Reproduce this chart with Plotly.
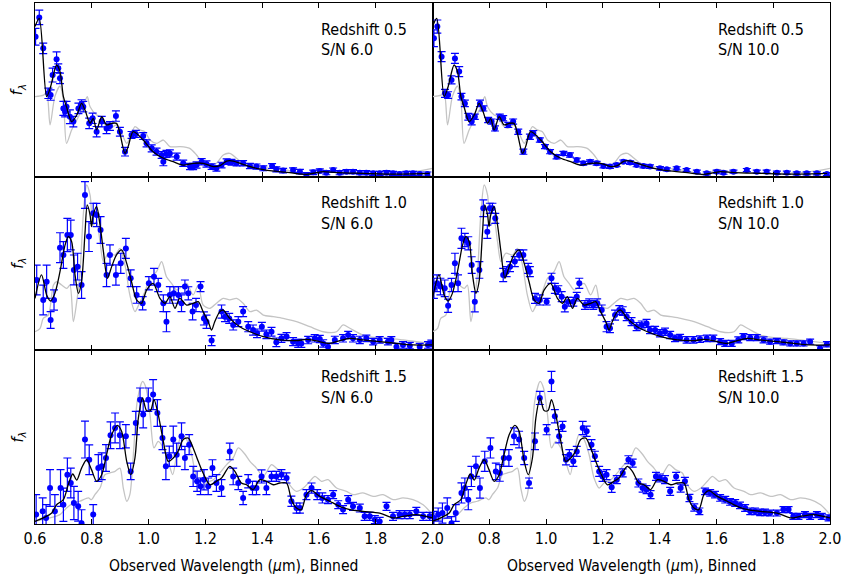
import plotly.graph_objects as go
from plotly.subplots import make_subplots

# ---------------- data (wavelength in micron, flux in arbitrary units) ----------------
tick_vals = [0.6, 0.8, 1.0, 1.2, 1.4, 1.6, 1.8, 2.0]
tick_text = ["0.6", "0.8", "1.0", "1.2", "1.4", "1.6", "1.8", "2.0"]

# templates (gray) and models (black) per redshift
gray05_wl = [0.600,0.630,0.641,0.653,0.670,0.688,0.700,0.711,0.729,0.747,0.770,0.784,0.794,0.817,0.835,0.846,0.864,0.887,0.905,0.923,0.934,0.952,0.969,0.987,1.005,1.028,1.052,1.075,1.110,1.145,1.169,1.192,1.216,1.239,1.263,1.286,1.310,1.333,1.380,1.427,1.497,1.556,1.603,1.638,1.709,1.814,1.931,2.000]
gray05_f = [46.1,47.0,48.4,29.8,46.1,52.2,44.1,19.2,26.9,32.6,40.3,46.1,40.3,35.5,34.5,29.8,27.8,29.8,25.0,19.2,22.1,28.8,26.9,25.9,21.1,19.2,21.1,17.3,17.3,16.3,12.5,7.7,6.7,7.7,12.5,13.4,10.6,7.7,5.8,4.8,3.5,1.0,4.2,2.9,2.3,1.9,2.9,4.8]
model05_wl = [0.600,0.615,0.641,0.655,0.676,0.688,0.700,0.711,0.729,0.747,0.764,0.776,0.794,0.805,0.817,0.835,0.852,0.870,0.887,0.899,0.917,0.928,0.946,0.981,1.016,1.052,1.087,1.122,1.157,1.192,1.228,1.251,1.275,1.298,1.333,1.380,1.427,1.497,1.556,1.591,1.615,1.662,1.755,1.873,1.990]
model05_f = [86.4,91.2,46.1,51.8,64.3,60.5,46.1,40.3,31.7,35.5,42.2,38.4,30.7,33.6,26.9,34.5,29.8,30.7,30.7,25.0,13.4,17.3,25.9,21.1,14.4,10.6,8.6,6.7,7.7,7.7,5.8,6.3,9.0,9.0,7.1,4.8,3.5,2.3,1.3,2.3,2.9,2.3,1.9,1.5,1.9]

gray10_wl = [0.600,0.618,0.629,0.647,0.665,0.676,0.694,0.712,0.723,0.735,0.747,0.758,0.770,0.782,0.794,0.805,0.817,0.829,0.841,0.858,0.882,0.899,0.917,0.934,0.952,0.970,0.987,1.005,1.028,1.046,1.063,1.081,1.099,1.116,1.134,1.157,1.175,1.192,1.216,1.239,1.263,1.286,1.310,1.333,1.357,1.380,1.404,1.439,1.474,1.521,1.568,1.615,1.662,1.685,1.709,1.755,1.802,1.849,1.896,1.943,2.000]
gray10_f = [10.7,12.7,18.4,20.3,37.6,39.5,37.6,35.7,37.6,16.5,28.0,43.4,77.9,95.2,89.4,72.2,74.1,62.6,51.1,55.9,54.9,58.7,49.1,31.9,22.3,28.0,33.8,41.5,45.3,51.1,42.4,38.6,34.7,36.7,38.6,31.9,37.6,26.1,24.2,27.1,29.9,29.0,29.9,27.1,22.3,23.2,20.3,19.4,18.4,16.5,13.6,10.7,10.7,14.6,12.7,8.8,7.3,6.9,6.0,5.0,4.0]
model10_wl = [0.600,0.623,0.641,0.655,0.670,0.688,0.706,0.717,0.729,0.741,0.753,0.764,0.776,0.784,0.794,0.799,0.805,0.817,0.829,0.841,0.855,0.870,0.887,0.905,0.923,0.940,0.958,0.975,0.993,1.016,1.040,1.058,1.075,1.093,1.110,1.134,1.157,1.175,1.192,1.210,1.222,1.233,1.251,1.263,1.286,1.321,1.357,1.404,1.462,1.521,1.556,1.591,1.638,1.673,1.709,1.755,1.814,1.873,1.931,2.000]
model10_f = [29.9,43.4,31.9,28.4,32.8,45.3,60.7,65.5,62.6,43.4,32.8,39.5,67.4,83.7,77.9,71.2,77.9,82.7,72.2,56.8,41.5,48.2,54.9,57.8,50.1,39.5,29.0,27.1,34.7,38.6,29.9,27.1,30.9,24.2,29.9,26.1,27.1,28.0,22.3,16.5,11.7,16.5,22.3,23.2,18.4,13.6,10.7,7.9,6.0,5.6,6.3,5.4,4.0,5.6,6.9,6.0,5.0,4.0,3.1,3.1]

gray15_wl = [0.600,0.653,0.688,0.711,0.735,0.758,0.788,0.799,0.811,0.829,0.846,0.864,0.882,0.899,0.911,0.923,0.934,0.948,0.960,0.979,0.991,1.005,1.019,1.034,1.052,1.069,1.085,1.099,1.116,1.134,1.151,1.169,1.187,1.204,1.228,1.251,1.275,1.298,1.316,1.339,1.357,1.380,1.404,1.433,1.456,1.480,1.497,1.521,1.545,1.568,1.586,1.609,1.632,1.662,1.697,1.720,1.755,1.791,1.826,1.861,1.896,1.931,1.967,2.000]
gray15_f = [1.5,3.5,5.4,9.2,12.1,13.1,15.0,14.0,16.9,20.7,28.4,29.4,30.3,32.2,20.7,13.1,16.9,43.8,70.6,82.1,78.3,63.0,43.8,47.6,43.8,36.1,28.4,40.3,51.4,48.6,40.3,26.5,20.7,23.6,25.5,29.4,34.2,38.0,43.8,40.3,36.1,32.2,27.4,34.2,31.3,29.4,22.6,18.8,20.7,24.6,27.4,24.6,25.5,20.7,18.8,16.9,17.9,15.9,16.9,14.0,15.0,14.0,11.1,5.4]
model15_wl = [0.600,0.629,0.659,0.676,0.700,0.717,0.733,0.747,0.764,0.782,0.799,0.817,0.835,0.852,0.870,0.890,0.905,0.923,0.937,0.952,0.964,0.979,0.993,1.007,1.019,1.034,1.052,1.069,1.087,1.104,1.122,1.140,1.157,1.175,1.192,1.216,1.239,1.257,1.286,1.304,1.327,1.345,1.368,1.392,1.415,1.439,1.462,1.486,1.503,1.521,1.538,1.556,1.574,1.603,1.638,1.673,1.709,1.755,1.814,1.861,1.896,1.943,2.000]
model15_f = [1.5,3.5,6.3,11.1,14.0,22.6,28.8,25.3,32.2,37.0,31.3,24.6,28.4,39.9,51.4,56.8,53.4,36.1,28.4,38.0,61.0,72.6,65.3,65.3,71.6,63.0,47.6,36.1,38.0,41.8,48.6,49.5,43.8,36.1,29.4,22.6,24.6,26.5,33.2,30.3,23.6,22.6,19.8,25.5,24.6,22.6,23.6,23.6,14.0,9.2,8.3,16.9,19.2,15.9,13.1,10.2,8.3,7.3,6.3,3.5,4.4,5.4,3.5]

# binned observations (blue points with errors)
obs_z05_sn6_wl = [0.602,0.615,0.629,0.647,0.655,0.662,0.676,0.682,0.688,0.700,0.706,0.711,0.723,0.735,0.753,0.764,0.770,0.791,0.803,0.817,0.835,0.852,0.864,0.885,0.899,0.917,0.940,0.955,0.981,0.993,1.011,1.028,1.046,1.052,1.063,1.075,1.099,1.122,1.146,1.157,1.169,1.187,1.204,1.222,1.239,1.257,1.275,1.292,1.310,1.333,1.357,1.380,1.404,1.435,1.450,1.474,1.509,1.533,1.556,1.580,1.603,1.626,1.650,1.673,1.697,1.720,1.744,1.767,1.791,1.814,1.838,1.861,1.884,1.908,1.931,1.955,1.982]
obs_z05_sn6_f = [80.6,91.7,73.9,48.0,47.0,58.5,67.6,62.4,56.6,39.3,37.4,40.3,34.5,31.7,39.3,41.8,40.3,30.7,33.6,25.9,31.7,27.8,29.2,34.9,25.9,14.4,24.0,24.6,23.4,19.2,16.3,14.4,12.5,8.6,13.1,13.4,11.5,7.7,5.8,5.8,6.7,8.6,7.3,5.8,4.8,6.7,8.6,8.3,7.7,7.7,6.1,5.8,4.8,6.1,4.2,3.5,3.8,2.9,1.0,2.5,3.3,2.3,3.8,2.3,2.9,2.9,2.3,2.3,1.9,1.9,2.3,1.9,1.5,1.9,1.9,1.5,1.5]
obs_z05_sn6_e = [4.8,4.2,3.0,3.0,3.0,4.0,4.2,2.5,3.0,4.0,3.0,3.0,4.0,3.0,3.0,2.5,3.0,3.0,3.0,3.0,3.0,3.0,2.5,3.0,2.5,2.5,2.0,2.0,2.0,2.0,2.0,2.0,2.0,2.3,2.0,2.0,2.0,1.8,1.8,1.8,1.8,1.8,1.8,1.6,1.6,1.6,1.6,1.6,1.5,1.5,1.5,1.5,1.4,1.4,1.4,1.3,1.3,1.3,1.3,1.3,1.2,1.2,1.2,1.2,1.2,1.2,1.2,1.2,1.2,1.2,1.2,1.2,1.2,1.2,1.2,1.2,1.2]

obs_z05_sn10_wl = [0.605,0.617,0.632,0.644,0.655,0.667,0.679,0.694,0.702,0.714,0.726,0.738,0.749,0.767,0.779,0.796,0.808,0.820,0.837,0.849,0.867,0.884,0.902,0.920,0.943,0.955,0.978,0.996,1.014,1.037,1.061,1.084,1.108,1.131,1.155,1.178,1.202,1.225,1.249,1.272,1.296,1.319,1.343,1.366,1.401,1.425,1.460,1.495,1.531,1.566,1.601,1.625,1.660,1.707,1.742,1.777,1.813,1.848,1.883,1.918,1.954,1.989]
obs_z05_sn10_f = [79.7,86.4,69.1,48.0,47.0,55.7,68.1,60.5,46.1,42.2,34.5,31.7,34.5,42.2,39.3,32.6,31.7,27.8,34.5,33.6,29.8,31.7,25.9,14.4,23.0,25.0,21.1,17.3,14.4,11.5,13.4,12.5,9.6,7.7,8.6,7.7,6.1,5.8,6.7,8.6,8.1,6.7,6.1,5.8,4.8,4.2,4.8,3.8,2.9,1.9,2.9,2.3,2.9,3.8,2.9,2.9,2.3,2.3,1.9,1.9,1.9,1.5]
obs_z05_sn10_e = [4.8,3.8,2.9,2.3,1.9,2.3,2.9,2.9,1.9,1.9,1.9,1.9,1.5,1.9,1.5,1.5,1.5,1.5,1.5,1.5,1.5,1.5,1.5,1.5,1.5,1.5,1.2,1.2,1.2,1.2,1.2,1.2,1.1,1.1,1.1,1.1,1.0,1.0,1.0,1.0,1.0,1.0,1.0,1.0,1.0,0.9,0.9,0.9,0.9,0.9,0.9,0.9,0.9,0.9,0.9,0.9,0.9,0.9,0.9,0.9,0.9,0.9]

obs_z10_sn6_wl = [0.606,0.629,0.641,0.655,0.667,0.688,0.700,0.714,0.726,0.737,0.750,0.764,0.776,0.790,0.805,0.817,0.831,0.852,0.864,0.885,0.902,0.920,0.937,0.958,0.979,1.001,1.019,1.034,1.052,1.063,1.075,1.089,1.105,1.116,1.128,1.140,1.155,1.167,1.183,1.195,1.204,1.222,1.257,1.269,1.284,1.298,1.316,1.333,1.351,1.368,1.382,1.399,1.415,1.433,1.450,1.468,1.486,1.509,1.527,1.538,1.562,1.585,1.603,1.615,1.632,1.656,1.685,1.703,1.720,1.744,1.767,1.791,1.814,1.843,1.855,1.873,1.896,1.920,1.955,1.984,1.996]
obs_z10_sn6_f = [40.5,29.0,39.5,17.5,29.0,59.1,54.9,66.4,66.4,46.3,48.2,37.6,89.4,65.5,78.9,77.9,69.3,43.4,54.9,43.4,50.1,58.7,41.5,31.9,27.1,38.6,42.4,37.6,27.1,16.5,31.9,32.8,31.9,27.1,36.7,32.8,22.3,26.1,36.7,18.4,16.5,5.6,22.3,19.4,18.4,14.6,16.5,22.3,13.6,11.7,9.8,13.6,9.2,10.7,4.6,6.9,7.9,5.0,4.0,4.0,5.9,6.9,6.5,4.0,2.1,6.0,6.9,8.8,6.9,6.0,6.9,5.0,6.0,5.0,6.0,2.1,3.1,2.7,2.1,3.1,4.0]
obs_z10_sn6_e = [8.6,8.6,9.6,4.8,5.8,8.6,7.7,9.6,8.6,8.6,7.7,7.7,7.7,8.6,5.8,6.7,7.7,6.7,5.8,5.8,5.8,5.8,4.8,4.8,3.8,3.8,4.8,3.8,4.8,5.8,4.8,3.8,4.8,4.8,3.8,3.8,4.8,3.8,2.9,3.8,3.8,2.9,3.8,2.9,2.9,2.9,2.9,2.9,2.9,2.9,2.5,2.5,2.5,2.5,2.5,2.3,2.3,2.3,2.3,2.3,2.1,2.1,2.1,2.1,2.1,2.1,2.1,2.1,2.1,2.1,1.9,1.9,1.9,1.9,1.9,1.9,1.9,1.9,1.9,1.9,1.9]

obs_z10_sn10_wl = [0.605,0.616,0.628,0.643,0.655,0.667,0.679,0.690,0.702,0.714,0.726,0.738,0.749,0.765,0.779,0.793,0.802,0.811,0.821,0.849,0.861,0.873,0.890,0.905,0.920,0.937,0.943,0.961,0.978,1.002,1.019,1.031,1.043,1.055,1.066,1.078,1.096,1.108,1.117,1.137,1.152,1.166,1.180,1.196,1.213,1.225,1.243,1.258,1.270,1.284,1.301,1.319,1.337,1.354,1.366,1.384,1.401,1.419,1.437,1.454,1.472,1.495,1.519,1.542,1.566,1.589,1.613,1.631,1.654,1.677,1.695,1.719,1.742,1.766,1.789,1.813,1.836,1.860,1.883,1.907,1.930,1.965,1.989]
obs_z10_sn10_f = [35.7,38.6,36.7,35.7,25.7,37.6,50.1,38.6,64.5,63.5,61.6,49.1,28.0,46.3,81.8,68.3,81.8,81.8,76.0,43.4,45.3,48.2,51.1,54.9,54.9,47.2,45.3,29.9,29.0,28.0,41.5,35.7,34.7,30.9,25.1,28.0,28.0,30.9,38.6,26.1,27.1,26.1,27.1,23.2,13.6,12.7,20.3,23.2,22.6,19.4,16.5,13.6,14.6,15.5,11.7,11.7,9.8,10.7,8.8,6.9,7.3,6.0,6.0,6.5,6.9,6.9,5.0,4.0,4.0,6.0,7.9,7.3,7.3,6.0,5.0,5.4,4.6,4.0,4.0,4.0,5.0,1.2,3.5]
obs_z10_sn10_e = [5.8,4.8,4.8,4.8,3.8,3.8,5.8,4.8,5.8,3.8,3.8,4.8,5.8,4.8,4.8,3.8,2.9,2.9,2.9,3.8,2.9,2.9,2.9,2.9,2.9,2.9,2.9,2.9,2.9,1.9,2.9,2.9,2.5,2.9,2.9,2.5,2.5,2.5,2.9,2.5,2.5,2.5,2.5,2.9,2.9,2.5,2.9,2.5,2.5,2.3,2.3,2.3,2.3,2.3,2.1,2.1,2.1,2.1,2.1,1.9,1.9,1.9,1.9,1.9,1.9,1.9,1.7,1.7,1.7,1.7,1.7,1.7,1.7,1.7,1.5,1.5,1.5,1.5,1.5,1.5,1.5,1.5,1.5]

obs_z15_sn6_wl = [0.604,0.627,0.639,0.653,0.670,0.690,0.700,0.714,0.726,0.737,0.752,0.764,0.776,0.791,0.805,0.823,0.835,0.850,0.866,0.882,0.899,0.920,0.937,0.955,0.970,0.981,0.999,1.016,1.031,1.049,1.061,1.073,1.087,1.099,1.116,1.128,1.143,1.157,1.171,1.183,1.195,1.210,1.225,1.239,1.257,1.286,1.298,1.316,1.333,1.351,1.366,1.380,1.398,1.415,1.433,1.450,1.468,1.486,1.503,1.521,1.533,1.556,1.574,1.594,1.612,1.632,1.650,1.668,1.685,1.703,1.720,1.744,1.761,1.779,1.797,1.814,1.838,1.861,1.884,1.902,1.920,1.943,1.967,1.990]
obs_z15_sn6_f = [5.4,7.3,3.5,20.7,7.3,20.7,11.1,28.4,23.6,12.1,10.2,0.5,48.6,37.0,5.4,32.2,33.2,38.0,51.1,55.3,51.1,50.5,30.3,58.2,71.6,63.0,71.6,74.5,63.9,49.5,33.2,39.0,48.6,39.9,50.5,38.0,45.7,27.4,24.6,21.7,25.5,21.7,32.2,23.6,20.7,41.8,27.4,23.6,15.0,24.6,20.7,20.7,27.4,20.7,27.4,27.4,28.4,26.5,13.1,9.2,9.2,16.9,20.7,16.9,15.0,14.0,16.9,11.1,8.3,14.0,10.2,9.2,4.4,4.4,2.5,1.5,10.2,4.4,5.4,5.4,5.4,7.3,4.4,4.4]
obs_z15_sn6_e = [11.5,7.7,7.7,10.6,9.6,10.6,9.6,9.6,8.6,9.6,8.6,7.7,10.6,8.6,5.8,7.7,7.7,7.7,7.7,8.6,7.7,6.7,4.8,6.7,6.7,7.7,6.7,8.6,7.7,6.7,7.7,5.8,7.7,6.7,7.7,6.7,5.8,5.8,5.8,4.8,5.8,4.8,4.8,4.8,4.8,4.8,4.8,3.8,3.8,3.8,3.8,3.8,3.8,3.8,2.9,2.9,2.9,2.9,2.9,2.9,2.9,2.9,2.9,2.9,2.9,2.3,2.3,2.3,2.3,2.3,2.3,2.3,2.3,2.3,2.3,2.3,2.3,2.3,2.3,2.3,2.3,2.3,2.3,2.3]

obs_z15_sn10_wl = [0.605,0.620,0.635,0.652,0.667,0.682,0.702,0.714,0.726,0.737,0.753,0.767,0.784,0.804,0.823,0.837,0.851,0.869,0.887,0.905,0.923,0.940,0.961,0.978,1.002,1.019,1.031,1.046,1.058,1.070,1.082,1.096,1.108,1.129,1.143,1.160,1.172,1.187,1.199,1.213,1.231,1.249,1.270,1.290,1.305,1.325,1.340,1.354,1.368,1.387,1.401,1.419,1.437,1.458,1.474,1.489,1.505,1.522,1.540,1.560,1.578,1.595,1.613,1.631,1.648,1.666,1.683,1.701,1.719,1.736,1.754,1.771,1.789,1.813,1.836,1.854,1.871,1.889,1.912,1.930,1.954,1.971,1.995]
obs_z15_sn10_f = [3.5,5.4,6.3,9.2,0.5,6.3,17.9,20.7,14.0,27.4,33.2,20.7,36.1,43.8,30.3,29.4,38.0,38.0,50.5,48.6,38.0,23.6,47.6,72.6,54.3,82.1,62.0,50.5,56.2,37.0,39.9,36.1,41.8,55.3,53.4,45.7,39.0,30.3,27.4,28.4,21.1,25.5,29.4,37.0,35.1,23.6,20.7,19.8,16.9,27.4,26.5,25.5,18.8,27.4,20.7,24.6,15.0,9.5,7.3,18.8,17.9,16.9,15.0,14.0,12.7,12.1,10.7,9.2,7.3,7.3,6.7,6.7,6.3,6.3,8.3,8.3,4.4,4.4,5.4,4.4,5.4,4.4,3.5]
obs_z15_sn10_e = [3.8,3.8,5.8,5.8,3.8,4.8,5.8,5.8,5.8,5.8,5.8,5.8,5.8,5.8,4.8,4.8,4.8,4.8,4.8,4.8,3.8,2.9,4.8,3.8,2.9,5.8,3.8,3.8,2.9,2.9,2.9,2.9,2.9,3.8,2.9,2.9,2.9,2.9,2.9,2.9,2.9,2.3,2.3,2.3,2.3,2.3,2.3,2.3,2.3,2.3,2.3,2.3,2.3,2.3,2.3,2.3,2.1,2.1,1.9,1.9,1.9,1.9,1.9,1.9,1.9,1.9,1.9,1.9,1.9,1.9,1.9,1.9,1.7,1.7,1.7,1.7,1.7,1.7,1.7,1.7,1.7,1.7,1.7]

redshift_labels = ["Redshift 0.5", "Redshift 1.0", "Redshift 1.5"]
sn_labels = ["S/N 6.0", "S/N 10.0"]
x_title = "Observed Wavelength (<i>μ</i>m), Binned"
y_title = "<i>f<sub>λ</sub></i>"

# ---------------- figure ----------------
FONT = "DejaVu Sans Condensed, DejaVu Sans, sans-serif"
fig = make_subplots(rows=3, cols=2, horizontal_spacing=0, vertical_spacing=0)

templates = [(gray05_wl, gray05_f, model05_wl, model05_f),
             (gray10_wl, gray10_f, model10_wl, model10_f),
             (gray15_wl, gray15_f, model15_wl, model15_f)]
observations = [[(obs_z05_sn6_wl, obs_z05_sn6_f, obs_z05_sn6_e), (obs_z05_sn10_wl, obs_z05_sn10_f, obs_z05_sn10_e)],
                [(obs_z10_sn6_wl, obs_z10_sn6_f, obs_z10_sn6_e), (obs_z10_sn10_wl, obs_z10_sn10_f, obs_z10_sn10_e)],
                [(obs_z15_sn6_wl, obs_z15_sn6_f, obs_z15_sn6_e), (obs_z15_sn10_wl, obs_z15_sn10_f, obs_z15_sn10_e)]]

annotations = []
for r in range(3):
    gwl, gf, mwl, mf = templates[r]
    for c in range(2):
        owl, of, oe = observations[r][c]
        fig.add_trace(go.Scatter(x=gwl, y=gf, mode="lines",
                                 line=dict(color="#c4c4c4", width=1.3, shape="spline", smoothing=0.8),
                                 showlegend=False, hoverinfo="skip"), row=r + 1, col=c + 1)
        fig.add_trace(go.Scatter(x=owl, y=of, mode="markers",
                                 marker=dict(color="#0000ff", size=6),
                                 error_y=dict(type="data", array=oe, color="#0000ff", thickness=1.2, width=4),
                                 showlegend=False), row=r + 1, col=c + 1)
        fig.add_trace(go.Scatter(x=mwl, y=mf, mode="lines",
                                 line=dict(color="black", width=1.3, shape="spline", smoothing=0.8),
                                 showlegend=False, hoverinfo="skip"), row=r + 1, col=c + 1)
        idx = r * 2 + c + 1
        ax = "" if idx == 1 else str(idx)
        for txt, yy in ((redshift_labels[r], 0.85), (sn_labels[c], 0.73)):
            annotations.append(dict(text=txt, xref=f"x{ax} domain", yref=f"y{ax} domain",
                                    x=0.714, y=yy, xanchor="left", yanchor="middle", showarrow=False,
                                    font=dict(family=FONT, size=16, color="black")))
    # y label per row
    ax = "" if r == 0 else str(r * 2 + 1)
    annotations.append(dict(text=y_title, xref="paper", yref=f"y{ax} domain", x=-0.021, y=0.5,
                            xanchor="center", yanchor="middle", textangle=-90, showarrow=False,
                            font=dict(family=FONT, size=16, color="black")))

for c, ax in enumerate(["5", "6"]):
    annotations.append(dict(text=x_title, xref=f"x{ax} domain", yref="paper", x=0.5, y=-0.081,
                            xanchor="center", yanchor="middle", showarrow=False,
                            font=dict(family=FONT, size=15.5, color="black")))

for r in range(1, 4):
    for c in range(1, 3):
        tv = tick_vals if c == 1 else tick_vals[1:]
        tt = tick_text if c == 1 else tick_text[1:]
        fig.update_xaxes(range=[0.6, 2.0], tickvals=tv, ticktext=tt, ticks="inside", ticklen=5,
                         tickcolor="black", tickwidth=1, showline=True, linecolor="black", linewidth=1,
                         mirror="ticks", showgrid=False, zeroline=False, showticklabels=(r == 3),
                         ticklabelstandoff=0,
                         tickfont=dict(family=FONT, size=16, color="black"), row=r, col=c)
        fig.update_yaxes(range=[0, 100], showticklabels=False, ticks="", showline=True,
                         linecolor="black", linewidth=1, mirror=True, showgrid=False, zeroline=False,
                         row=r, col=c)

fig.update_layout(width=843, height=582, margin=dict(l=35, r=13, t=3, b=58),
                  paper_bgcolor="white", plot_bgcolor="white", annotations=annotations,
                  font=dict(family=FONT, color="black"))

fig.write_html("out.html")
